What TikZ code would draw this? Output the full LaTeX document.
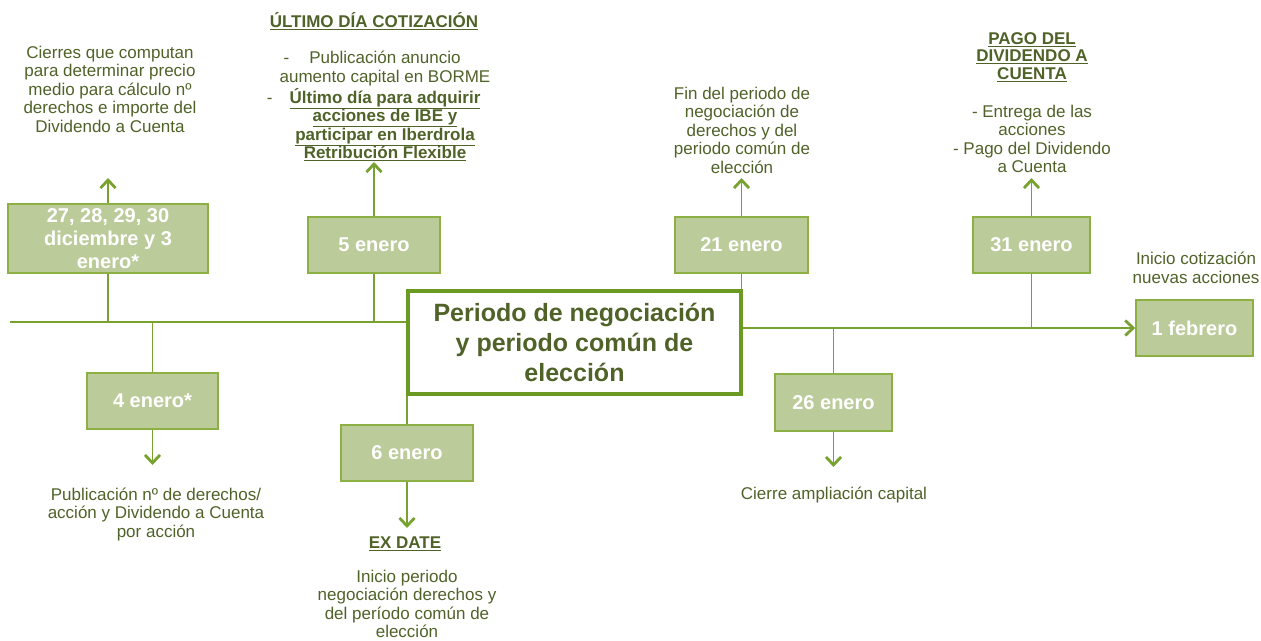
\documentclass[tikz,border=0pt]{standalone}
\usepackage{fontspec}
\setmainfont{Liberation Sans}
\usetikzlibrary{arrows.meta}

\definecolor{boxfill}{RGB}{188,203,154}
\definecolor{boxline}{RGB}{140,176,67}
\definecolor{linkgreen}{RGB}{119,162,47}
\definecolor{maingreen}{RGB}{107,154,35}
\definecolor{textgreen}{RGB}{79,98,40}

\tikzset{
  datebox/.style={draw=boxline, fill=boxfill, line width=1.5pt, text=white,
    font=\fontsize{20}{23}\selectfont\bfseries, align=center, inner sep=0pt,
    minimum height=56pt},
  mainbox/.style={draw=maingreen, fill=white, line width=4.5pt, text=textgreen,
    font=\fontsize{25}{30}\selectfont\bfseries, align=center, inner sep=0pt,
    minimum width=333pt, minimum height=103pt},
  note/.style={text=textgreen, font=\fontsize{17}{18.5}\selectfont, align=center, inner sep=0pt},
  heading/.style={note, font=\fontsize{17}{17.5}\selectfont\bfseries},
  link/.style={draw=linkgreen, line width=1.7pt},
  tip/.style={-{Straight Barb[length=8pt,width=15pt,line width=2.8pt]}}
}

\begin{document}
\begin{tikzpicture}[x=1pt,y=-1pt]
  \useasboundingbox (0,0) rectangle (1261,640);

  % central box
  \node[mainbox] (periodo) at (574.5,342.5) {Periodo de negociación\\y periodo común de\\elección};

  % date boxes
  \node[datebox, minimum width=200pt, minimum height=69pt] (dic) at (108,238.5) {27, 28, 29, 30\\diciembre y 3\\enero*};
  \node[datebox, minimum width=132pt] (ene5) at (374,245) {5 enero};
  \node[datebox, minimum width=133pt] (ene21) at (741.5,245) {21 enero};
  \node[datebox, minimum width=117pt] (ene31) at (1031.5,245) {31 enero};
  \node[datebox, minimum width=131pt] (ene4) at (152.5,401) {4 enero*};
  \node[datebox, minimum width=132pt] (ene6) at (407,453) {6 enero};
  \node[datebox, minimum width=117pt, minimum height=57pt] (ene26) at (833.5,402.5) {26 enero};
  \node[datebox, minimum width=117pt] (feb) at (1194.5,328) {1 febrero};

  % texts
  \node[note] (cierres) at (110,89) {Cierres que computan\\para determinar precio\\medio para cálculo nº\\derechos e importe del\\Dividendo a Cuenta};
  \node[heading] (ultimo) at (374,21) {\underline{ÚLTIMO DÍA COTIZACIÓN}};
  \node[note] (borme) at (385,106) {\llap{-\hspace{20pt}}Publicación anuncio\\aumento capital en BORME\\[1.5pt]
    \llap{-\hspace{17pt}}\textbf{\underline{Último día para adquirir}}\\\textbf{\underline{acciones de IBE y}}\\
    \textbf{\underline{participar en Iberdrola}}\\\textbf{\underline{Retribución Flexible}}};
  \node[note] (fin) at (742,130) {Fin del periodo de\\negociación de\\derechos y del\\periodo común de\\elección};
  \node[heading] (pago) at (1032,57) {\underline{PAGO DEL}\\\underline{DIVIDENDO A}\\\underline{CUENTA}};
  \node[note] (entrega) at (1032,139) {- Entrega de las\\acciones\\- Pago del Dividendo\\a Cuenta};
  \node[note] (cotiza) at (1196,268) {Inicio cotización\\nuevas acciones};
  \node[note] (derechos) at (156,514) {Publicación nº de derechos/\\acción y Dividendo a Cuenta\\por acción};
  \node[heading] (exdate) at (405,544) {\underline{EX DATE}};
  \node[note] (negocia) at (407,604) {Inicio periodo\\negociación derechos y\\del período común de\\elección};
  \node[note] (cierre) at (834,495) {Cierre ampliación capital};

  % timeline
  \coordinate (inicio) at (10,322);
  \draw[link] (inicio) -- (inicio -| periodo.west);
  \draw[link,tip] (feb.west -| periodo.east) -- (feb.west);

  % stems to the timeline
  \draw[link] (dic.south) -- (dic.south |- inicio);
  \draw[link] (ene5.south) -- (ene5.south |- inicio);
  \draw[link] (ene4.north) -- (ene4.north |- inicio);
  \draw[link] (ene6.north) -- (ene6.north |- periodo.south);
  \draw[link] (ene21.south) -- (ene21.south |- periodo.north);
  \draw[link] (ene26.north) -- (ene26.north |- feb.west);
  \draw[link] (ene31.south) -- (ene31.south |- feb.west);

  % arrows to the texts
  \coordinate (dic-tip) at (108,178);
  \coordinate (ene5-tip) at (374,162);
  \coordinate (ene21-tip) at (741.5,178);
  \coordinate (ene31-tip) at (1031.5,178);
  \coordinate (ene4-tip) at (152.5,465);
  \coordinate (ene6-tip) at (407,528);
  \coordinate (ene26-tip) at (833.5,467);
  \draw[link,tip] (dic.north) -- (dic-tip);
  \draw[link,tip] (ene5.north) -- (ene5-tip);
  \draw[link,tip] (ene21.north) -- (ene21-tip);
  \draw[link,tip] (ene31.north) -- (ene31-tip);
  \draw[link,tip] (ene4.south) -- (ene4-tip);
  \draw[link,tip] (ene6.south) -- (ene6-tip);
  \draw[link,tip] (ene26.south) -- (ene26-tip);
\end{tikzpicture}
\end{document}
